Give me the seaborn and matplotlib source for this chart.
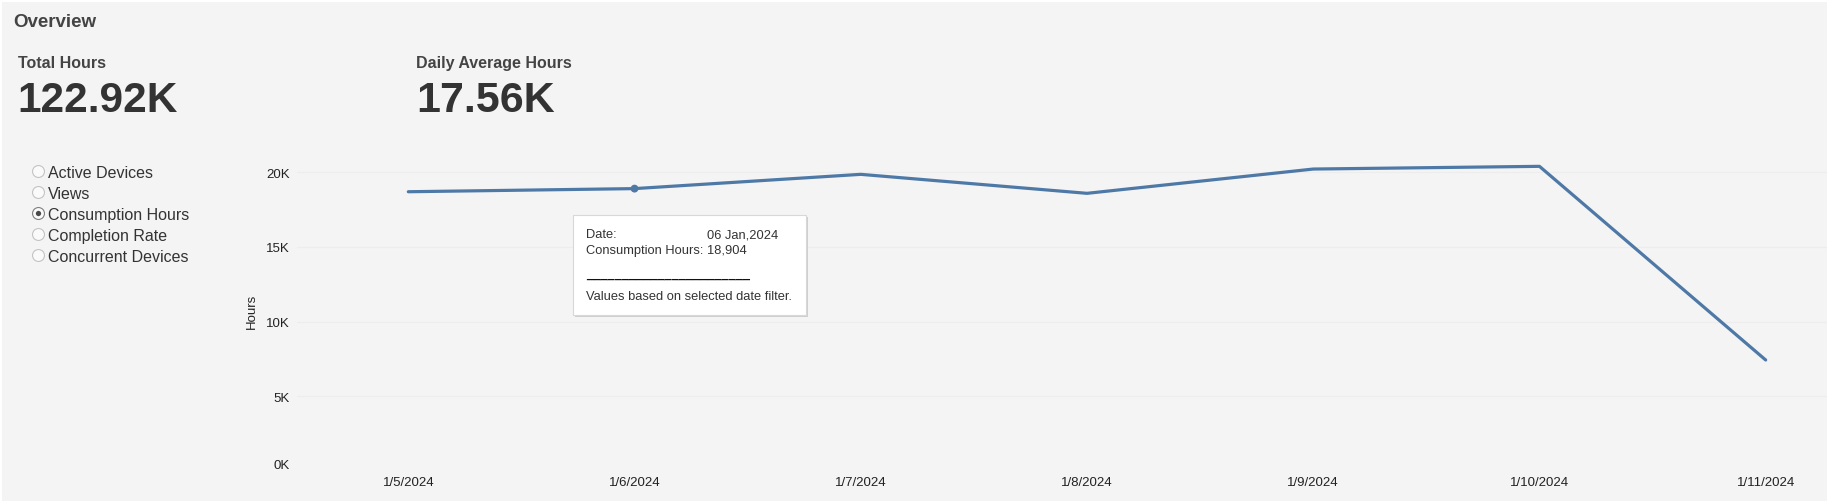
import matplotlib
matplotlib.use("Agg")
import matplotlib.pyplot as plt
from matplotlib.lines import Line2D
from matplotlib.patches import Rectangle
from matplotlib.ticker import FuncFormatter
import pandas as pd
import seaborn as sns

# values
dates = ["1/5/2024", "1/6/2024", "1/7/2024", "1/8/2024", "1/9/2024", "1/10/2024", "1/11/2024"]
hours = [18695, 18904, 19859, 18588, 20214, 20395, 7430]
y_ticks = [0, 5000, 10000, 15000, 20000]
metrics = ["Active Devices", "Views", "Consumption Hours", "Completion Rate", "Concurrent Devices"]
selected_metric = "Consumption Hours"
hover_date = "1/6/2024"
hover_date_text = "06 Jan,2024"
total_hours = "122.92K"
daily_avg = "17.56K"

sns.set_theme(style="white")
plt.rcParams["font.family"] = ["Liberation Sans", "DejaVu Sans"]

W, H = 1827, 502
BG = "#f4f4f4"
LINE = "#4e79a7"


def fx(x):
    return x / W


def fy(y):
    return 1 - y / H


fig = plt.figure(figsize=(W / 100, H / 100), dpi=100)
fig.patch.set_facecolor(BG)
# thin white rim top / left like the dashboard frame
fig.add_artist(Rectangle((0, fy(3)), 1, 3 / H, transform=fig.transFigure,
                         facecolor="white", edgecolor="none"))
fig.add_artist(Rectangle((0, 0), 2 / W, 1, transform=fig.transFigure,
                         facecolor="white", edgecolor="none"))

# header
fig.text(fx(13.4), fy(26.7), "Overview", fontsize=13.5, fontweight="bold", color="#444", va="baseline")
fig.text(fx(17.5), fy(68.3), "Total Hours", fontsize=11.5, fontweight="bold", color="#444", va="baseline")
fig.text(fx(17.5), fy(111.7), total_hours, fontsize=30.5, fontweight="bold", color="#333", va="baseline")
fig.text(fx(416.5), fy(68.3), "Daily Average Hours", fontsize=11.5, fontweight="bold", color="#444", va="baseline")
fig.text(fx(416.5), fy(111.7), daily_avg, fontsize=31, fontweight="bold", color="#333", va="baseline")

# metric selector
for i, m in enumerate(metrics):
    base = 177.7 + i * 21
    cy = base - 5.5
    sel = m == selected_metric
    fig.add_artist(Line2D([fx(38.3)], [fy(cy)], marker="o", markersize=8.6, linestyle="none",
                          markerfacecolor="#fafafa", markeredgecolor="#808080" if sel else "#c4c4c4",
                          markeredgewidth=0.8, transform=fig.transFigure))
    if sel:
        fig.add_artist(Line2D([fx(38.3)], [fy(cy)], marker="o", markersize=3.8, linestyle="none",
                              markerfacecolor="#4a4a4a", markeredgecolor="none",
                              transform=fig.transFigure))
    fig.text(fx(48.3), fy(base), m, fontsize=11.5, color="#333", va="baseline")

# line chart
ax = fig.add_axes([fx(297), fy(472), (W - 297) / W, (472 - 158.3) / H])
ax.set_facecolor(BG)

df = pd.DataFrame({"Date": dates, "Hours": hours})
sns.lineplot(data=df, x="Date", y="Hours", sort=False, color=LINE, linewidth=2.3, ax=ax)
sns.scatterplot(data=df[df["Date"] == hover_date], x="Date", y="Hours", color=LINE,
                s=32, edgecolor="none", ax=ax, zorder=5)

ax.set_xlim(-0.492, 6.271)
ax.set_ylim(0, 21000)
ax.set_yticks(y_ticks)
ax.yaxis.set_major_formatter(FuncFormatter(lambda v, p: f"{v / 1000:.0f}K"))
ax.tick_params(axis="y", length=0, pad=5, labelsize=9.5, labelcolor="#222")
ax.tick_params(axis="x", length=0, pad=3.5, labelsize=9.5, labelcolor="#222")
ax.grid(axis="y", color="#ededed", linewidth=0.9)
ax.grid(axis="x", visible=False)
ax.yaxis.get_gridlines()[0].set_visible(False)
ax.get_yticklabels()[0].set_verticalalignment("bottom")
sns.despine(ax=ax, left=True, bottom=True)
ax.set_xlabel("")
ax.set_ylabel("Hours", fontsize=9.5, color="#222")
ax.yaxis.set_label_coords(-0.0258, 0.511)

# hover tooltip
hover_value = hours[dates.index(hover_date)]
bx0, by0, bx1, by1 = 573, 215.5, 806, 316
fig.add_artist(Rectangle((fx(bx0 + 2), fy(by1 + 2)), (bx1 - bx0) / W, (by1 - by0) / H,
                         transform=fig.transFigure, facecolor="#cfcfcf", edgecolor="none"))
fig.add_artist(Rectangle((fx(bx0), fy(by1)), (bx1 - bx0) / W, (by1 - by0) / H,
                         transform=fig.transFigure, facecolor="white", edgecolor="#d8d8d8", linewidth=0.8))
tip = dict(fontsize=9.3, color="#333", va="center")
fig.text(fx(586), fy(235), "Date:", **tip)
fig.text(fx(706.7), fy(235), hover_date_text, **tip)
fig.text(fx(586), fy(251), f"Consumption Hours: {hover_value:,}", **tip)
fig.text(fx(586), fy(278), "_" * 23, fontsize=9.3, color="#111", fontweight="bold", va="baseline")
fig.text(fx(586), fy(296.7), "Values based on selected date filter.", **tip)

fig.savefig("out.png", dpi=100, facecolor=fig.get_facecolor())
